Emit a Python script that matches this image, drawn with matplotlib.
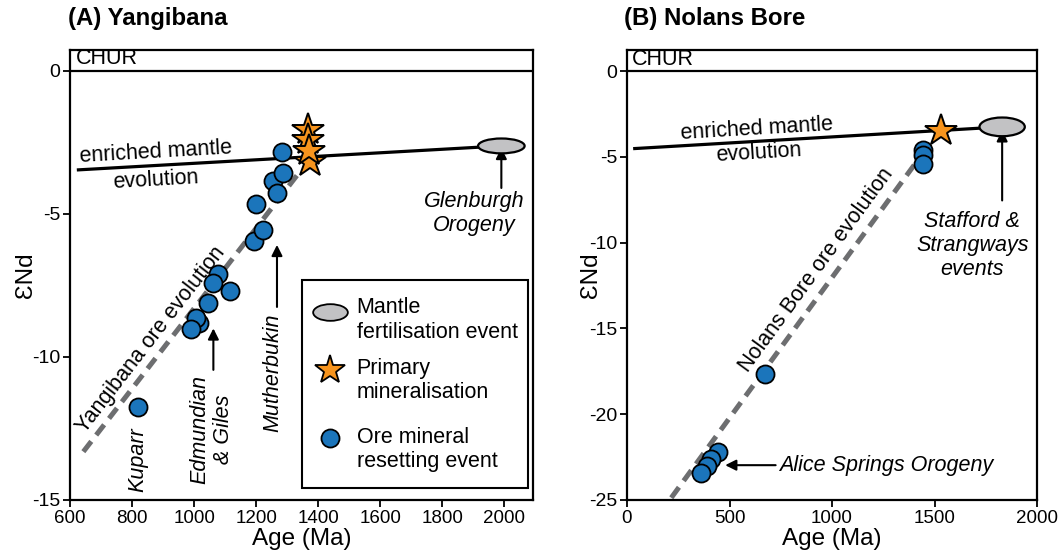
import numpy as np
import matplotlib
matplotlib.use('Agg')
import matplotlib.pyplot as plt
from matplotlib.patches import Ellipse, Rectangle
from matplotlib.path import Path
from matplotlib.transforms import Affine2D, blended_transform_factory

plt.rcParams['font.family'] = ['Liberation Sans', 'DejaVu Sans']
plt.rcParams['axes.unicode_minus'] = False

##### panel A : Yangibana #####
a_res_age = [1199, 1194, 1221, 1255, 1268, 1285, 1282, 1115, 1078, 1060, 1046, 1017, 1006, 990, 820]
a_res_end = [-4.65, -5.94, -5.56, -3.85, -4.26, -3.56, -2.82, -7.68, -7.10, -7.40, -8.10, -8.80, -8.65, -9.03, -11.74]
a_pri_age = [1372, 1368, 1368, 1370]
a_pri_end = [-3.19, -2.06, -2.41, -2.81]
a_mantle_age = [622, 1990]
a_mantle_end = [-3.46, -2.62]
a_ore_age = [643, 1345]
a_ore_end = [-13.31, -3.46]
a_fert_age, a_fert_end = 1990, -2.62
a_xticks = [600, 800, 1000, 1200, 1400, 1600, 1800, 2000]
a_yticks = [0, -5, -10, -15]

##### panel B : Nolans Bore #####
b_res_age = [1442, 1442, 1442, 671, 442, 410, 389, 362]
b_res_end = [-4.61, -4.91, -5.39, -17.66, -22.20, -22.62, -23.01, -23.40]
b_pri_age = [1531]
b_pri_end = [-3.49]
b_mantle_age = [30, 1830]
b_mantle_end = [-4.52, -3.25]
b_ore_age = [216, 1483]
b_ore_end = [-24.87, -4.13]
b_fert_age, b_fert_end = 1830, -3.25
b_xticks = [0, 500, 1000, 1500, 2000]
b_yticks = [0, -5, -10, -15, -20, -25]

blue   = '#1b75bb'
orange = '#f7941d'
grey   = '#c2c2c4'
dgrey  = '#6d6e70'
fs     = 15.5

fig = plt.figure(figsize=(10.59, 5.6), dpi=100)
axA = fig.add_axes([70/1059, 60/560, 463/1059, 450/560])
axB = fig.add_axes([627/1059, 60/560, 410/1059, 450/560])

axA.set_xlim(600, 2092)
axA.set_ylim(-15, 0.734)
axB.set_xlim(0, 2000)
axB.set_ylim(-25, 1.23)


def disp_angle(ax, xs, ys):
    p = ax.transData.transform(np.column_stack([xs, ys]))
    d = p[-1] - p[0]
    return np.degrees(np.arctan2(d[1], d[0]))


def base(ax, xt, yt, ylab_x):
    ax.set_xticks(xt)
    ax.set_yticks(yt)
    ax.tick_params(labelsize=14, width=1.3, length=5, direction='out', pad=2)
    ax.tick_params(axis='x', labelsize=13.5)
    for s in ax.spines.values():
        s.set_linewidth(1.6)
    ax.axhline(0, color='black', lw=1.6, zorder=1)
    tr = blended_transform_factory(ax.transAxes, ax.transData)
    ax.text(0.013, 0.08, 'CHUR', transform=tr, fontsize=fs, va='bottom', ha='left')
    ax.set_xlabel('Age (Ma)', fontsize=17.5, labelpad=1)
    ax.set_ylabel('\u0190Nd', fontsize=17.5)
    ax.yaxis.set_label_coords(ylab_x, 0.5)


def draw(ax, res_age, res_end, pri_age, pri_end, m_age, m_end, o_age, o_end,
         f_age, f_end, f_w, f_h):
    ax.plot(o_age, o_end, color=dgrey, lw=3.6, dashes=(2.6, 1.6), zorder=2)
    ax.plot(m_age, m_end, color='black', lw=2.3, zorder=3, solid_capstyle='butt')
    ax.add_patch(Ellipse((f_age, f_end), f_w, f_h, facecolor=grey, edgecolor='black',
                         lw=1.6, zorder=4))
    ax.plot(res_age, res_end, 'o', ms=13, mfc=blue, mec='black', mew=1.3, zorder=5)
    ax.plot(pri_age, pri_end, '*', ms=24, mfc=orange, mec='black', mew=1.4, zorder=6)


base(axA, a_xticks, a_yticks, -0.071)
base(axB, b_xticks, b_yticks, -0.062)

draw(axA, a_res_age, a_res_end, a_pri_age, a_pri_end, a_mantle_age, a_mantle_end,
     a_ore_age, a_ore_end, a_fert_age, a_fert_end, 150, 0.52)
draw(axB, b_res_age, b_res_end, b_pri_age, b_pri_end, b_mantle_age, b_mantle_end,
     b_ore_age, b_ore_end, b_fert_age, b_fert_end, 221, 1.09)

arr = dict(arrowstyle='-|>', color='black', lw=1.5, mutation_scale=16, shrinkA=0, shrinkB=0)

##### annotations A #####
ang_m = disp_angle(axA, a_mantle_age, a_mantle_end)
axA.text(876, -2.83, 'enriched mantle', fontsize=fs, rotation=ang_m, ha='center', va='center',
         rotation_mode='anchor')
axA.text(876, -3.81, 'evolution', fontsize=fs, rotation=ang_m, ha='center', va='center',
         rotation_mode='anchor')
ang_o = disp_angle(axA, a_ore_age, a_ore_end)
axA.text(860, -9.40, 'Yangibana ore evolution', fontsize=fs, rotation=ang_o, ha='center',
         va='center', rotation_mode='anchor')
axA.annotate('', xy=(1990, -2.69), xytext=(1990, -4.09), arrowprops=arr)
axA.text(1902, -4.97, 'Glenburgh\nOrogeny', fontsize=fs, style='italic', ha='center',
         va='center', linespacing=1.2)
axA.annotate('', xy=(1267, -6.08), xytext=(1267, -8.25), arrowprops=arr)
axA.text(1255, -10.55, 'Mutherbukin', fontsize=fs, style='italic', rotation=90,
         ha='center', va='center')
axA.annotate('', xy=(1062, -9.0), xytext=(1062, -10.45), arrowprops=arr)
axA.text(1056, -12.52, 'Edmundian\n& Giles', fontsize=fs, style='italic', rotation=90,
         ha='center', va='center', multialignment='center', linespacing=1.15)
axA.text(820, -13.6, 'Kuparr', fontsize=fs, style='italic', rotation=90,
         ha='center', va='center')

# legend box (drawn by hand so the symbol sits on the first line)
axA.add_patch(Rectangle((0.501, 0.027), 0.488, 0.462, transform=axA.transAxes,
                        facecolor='white', edgecolor='black', lw=1.5, zorder=7))
ell_marker = Path.unit_circle().transformed(Affine2D().scale(1.0, 0.48))
leg_items = [(ell_marker, 25, grey, 'Mantle\nfertilisation event', 0.418, 0.400),
             ('*', 22, orange, 'Primary\nmineralisation', 0.289, 0.265),
             ('o', 13, blue, 'Ore mineral\nresetting event', 0.137, 0.113)]
for mk, ms, col, lab, ym, yt in leg_items:
    axA.plot([0.561], [ym], marker=mk, ms=ms, mfc=col, mec='black', mew=1.3,
             transform=axA.transAxes, zorder=8, clip_on=False)
    axA.text(0.619, yt, lab, transform=axA.transAxes, fontsize=fs, ha='left', va='center',
             linespacing=1.2, zorder=8)

##### annotations B #####
ang_m = disp_angle(axB, b_mantle_age, b_mantle_end)
axB.text(634, -3.35, 'enriched mantle', fontsize=fs, rotation=ang_m, ha='center', va='center',
         rotation_mode='anchor')
axB.text(644, -4.77, 'evolution', fontsize=fs, rotation=ang_m, ha='center', va='center',
         rotation_mode='anchor')
ang_o = disp_angle(axB, b_ore_age, b_ore_end)
axB.text(922, -11.6, 'Nolans Bore ore evolution', fontsize=fs, rotation=ang_o, ha='center',
         va='center', rotation_mode='anchor')
axB.annotate('', xy=(1830, -3.45), xytext=(1830, -7.54), arrowprops=arr)
axB.text(1684, -10.16, 'Stafford &\nStrangways\nevents', fontsize=fs, style='italic',
         ha='center', va='center', linespacing=1.2)
axB.annotate('', xy=(479, -22.97), xytext=(725, -22.97), arrowprops=arr)
axB.text(744, -22.97, 'Alice Springs Orogeny', fontsize=fs, style='italic', ha='left',
         va='center')

fig.text(68/1059, 1-19/560, '(A) Yangibana', fontsize=17.3, fontweight='bold', ha='left', va='center')
fig.text(624/1059, 1-19/560, '(B) Nolans Bore', fontsize=17.3, fontweight='bold', ha='left', va='center')

fig.savefig('out.png', dpi=100)
